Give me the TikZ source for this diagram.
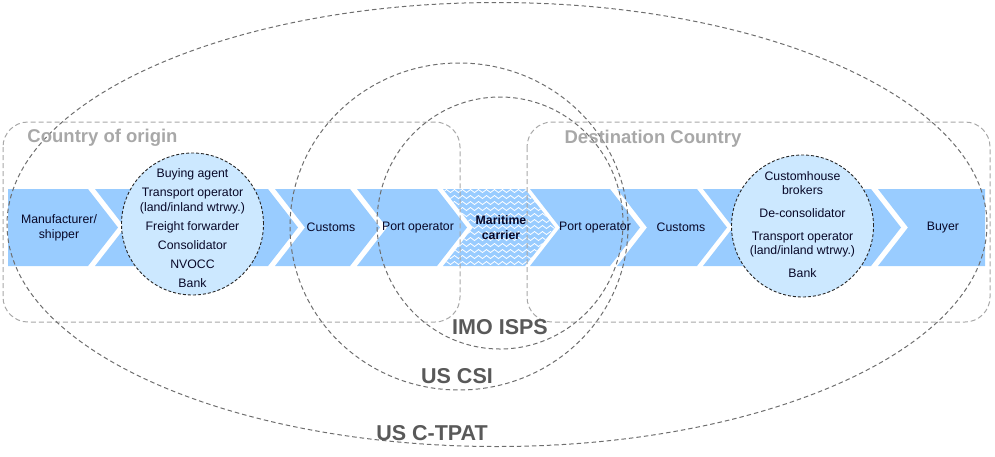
\documentclass[tikz,border=0pt]{standalone}
\usepackage{fontspec}
\setmainfont{Liberation Sans}
\usetikzlibrary{decorations.pathmorphing}
\definecolor{flow}{RGB}{153,204,255}
\definecolor{partyfill}{RGB}{204,232,255}
\definecolor{ink}{RGB}{8,8,40}
\definecolor{zonegray}{RGB}{168,168,168}
\definecolor{proggray}{RGB}{110,110,110}
\definecolor{progtext}{RGB}{89,89,89}

\begin{document}
\begin{tikzpicture}[x=1pt,y=-1pt,font=\fontsize{12.3}{15}\selectfont]
\tikzset{band/.style={fill=flow},
  lbl/.style={text=ink,align=center,inner sep=0pt},
  party/.style={circle,draw=black!85,dash pattern=on 3pt off 2pt,line width=0.9pt,fill=partyfill,minimum size=142pt,inner sep=0pt},
  zonebox/.style={draw=zonegray,dash pattern=on 5pt off 3pt,rounded corners=25pt,line width=1pt},
  prog/.style={draw=proggray,dash pattern=on 4.5pt off 3pt,line width=1pt},
  progname/.style={text=progtext,font=\fontsize{21.5}{24}\selectfont\bfseries},
  zonename/.style={text=zonegray,anchor=base,font=\fontsize{18.5}{20}\selectfont\bfseries},
  wave/.style={draw=white,line width=0.8pt,decorate,decoration={snake,amplitude=1.5pt,segment length=8pt}}}
\useasboundingbox (0,0) rectangle (995,456);
% flow band
\fill[band] (8,189) -- (88,189) -- (118,227.5) -- (88,266) -- (8,266) -- cycle;
\foreach \l/\r in {95/268,275/350,357/437,530/610,617/697,703/871}
  \fill[band] (\l,189) -- (\r,189) -- (\r+30,227.5) -- (\r,266) -- (\l,266) -- (\l+30,227.5) -- cycle;
\fill[band] (878,189) -- (985,189) -- (985,266) -- (878,266) -- (908,227.5) -- cycle;
\begin{scope}
  \clip (443,189) -- (525,189) -- (555,227.5) -- (525,266) -- (443,266) -- (473,227.5) -- cycle;
  \fill[band] (440,185) rectangle (560,270);
  \foreach \y in {191,197,...,269}
    \draw[wave] (436,\y) -- (562,\y);
\end{scope}
\node[party] (origparty) at (192.5,224) {};
\node[party] (destparty) at (802.5,226) {};
% zones and programmes
\draw[zonebox] (3,122) rectangle (460,322);
\draw[zonebox] (527,122) rectangle (990,322);
\draw[prog] (497,224.5) ellipse [x radius=490,y radius=222];
\draw[prog] (459,226.5) ellipse [x radius=169,y radius=163.5];
\draw[prog] (500,223) ellipse [x radius=123,y radius=126];
\node[zonename] (origin) at (102.5,142) {Country of origin};
\node[zonename] (dest) at (653,143) {Destination Country};
\node[progname] (isps) at (500,327) {IMO ISPS};
\node[progname] (csi) at (457,376) {US CSI};
\node[progname] (ctpat) at (432,433) {US C-TPAT};
% parties
\node[lbl] (shipper) at (59,228) {Manufacturer/\\shipper};
\node[lbl] (origlist) at (192.5,228.5) {Buying agent\\[4pt]Transport operator\\(land/inland wtrwy.)\\[4pt]Freight forwarder\\[4pt]Consolidator\\[4pt]NVOCC\\[4pt]Bank};
\node[lbl] (customsA) at (331,227.5) {Customs};
\node[lbl] (portA) at (418,227.5) {Port operator};
\node[lbl,font=\fontsize{12.3}{15}\selectfont\bfseries] (carrier) at (501,228) {Maritime\\carrier};
\node[lbl] (portB) at (595,227.5) {Port operator};
\node[lbl] (customsB) at (681,227.5) {Customs};
\node[lbl,font=\fontsize{12.3}{14}\selectfont] (destlist) at (802.5,225) {Customhouse\\brokers\\[9pt]De-consolidator\\[9pt]Transport operator\\(land/inland wtrwy.)\\[9pt]Bank};
\node[lbl] (buyer) at (943,227.5) {Buyer};
\end{tikzpicture}
\end{document}
